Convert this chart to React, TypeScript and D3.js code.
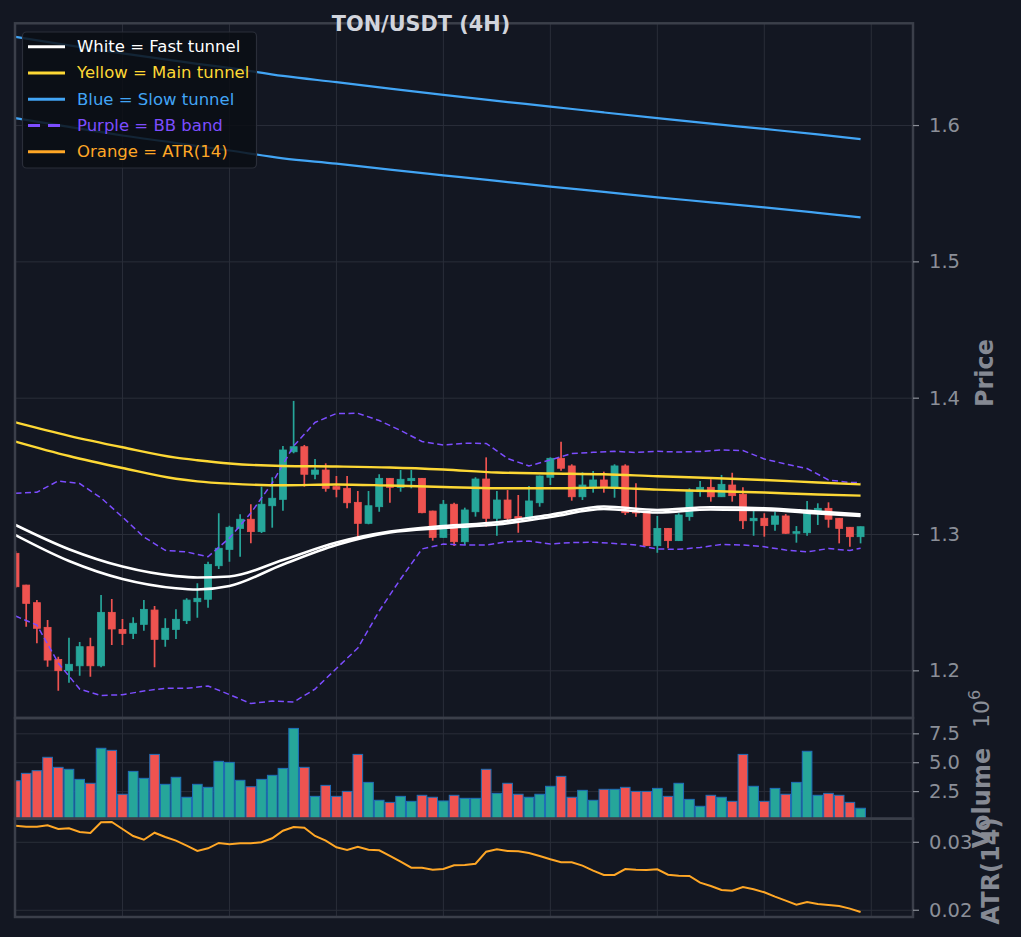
import * as d3 from "d3";

// TON/USDT 4H candles
const opens = [
  1.2862, 1.2629, 1.25, 1.2319, 1.2084, 1.2001, 1.2037, 1.2177, 1.2037, 1.2429,
  1.2304, 1.2275, 1.2341, 1.2446, 1.2231, 1.2304, 1.2368, 1.2507, 1.2525, 1.2771,
  1.2891, 1.3045, 1.3112, 1.3021, 1.3211, 1.3258, 1.3607, 1.3644, 1.3442, 1.3473,
  1.3351, 1.3339, 1.3236, 1.3082, 1.3204, 1.3412, 1.3346, 1.3395, 1.3412, 1.3172,
  1.2979, 1.3222, 1.2947, 1.3167, 1.3407, 1.3119, 1.3253, 1.3131, 1.3119, 1.3233,
  1.342, 1.3559, 1.3503, 1.3277, 1.3351, 1.34, 1.3339, 1.3503, 1.3167, 1.3167,
  1.2918, 1.3045, 1.2955, 1.3131, 1.3314, 1.3346, 1.3277, 1.3363, 1.3295, 1.3101,
  1.3119, 1.3075, 1.3136, 1.3009, 1.3013, 1.3156, 1.3192, 1.3119, 1.3053, 1.2984,
];
const highs = [
  1.2879, 1.2632, 1.2519, 1.2373, 1.2103, 1.2243, 1.2211, 1.2243, 1.2556, 1.2527,
  1.238, 1.2393, 1.2519, 1.2475, 1.2385, 1.2451, 1.2532, 1.2642, 1.28, 1.3156,
  1.3065, 1.3148, 1.3222, 1.3351, 1.342, 1.3649, 1.398, 1.3657, 1.3554, 1.3522,
  1.3429, 1.3429, 1.3319, 1.3319, 1.3442, 1.3415, 1.3473, 1.3473, 1.3415, 1.3175,
  1.3253, 1.3233, 1.3197, 1.342, 1.3566, 1.3319, 1.3326, 1.329, 1.3356, 1.3432,
  1.3566, 1.3681, 1.3515, 1.3456, 1.3466, 1.3461, 1.3515, 1.3515, 1.3376, 1.3172,
  1.3136, 1.3048, 1.3156, 1.3339, 1.3393, 1.3405, 1.3437, 1.3453, 1.3346, 1.3172,
  1.3156, 1.3167, 1.315, 1.3062, 1.3246, 1.3229, 1.3236, 1.3121, 1.3055, 1.3059,
];
const lows = [
  1.2607, 1.2324, 1.2202, 1.203, 1.1854, 1.1913, 1.1964, 1.1957, 1.2026, 1.2189,
  1.2189, 1.2233, 1.2294, 1.2026, 1.2177, 1.2233, 1.2343, 1.239, 1.2463, 1.2747,
  1.28, 1.2837, 1.2935, 1.3011, 1.305, 1.3175, 1.3596, 1.3351, 1.3405, 1.3314,
  1.3273, 1.3192, 1.2977, 1.3075, 1.3167, 1.3233, 1.3314, 1.3339, 1.3156, 1.2955,
  1.2975, 1.2916, 1.2923, 1.3131, 1.3057, 1.2991, 1.3082, 1.3013, 1.3115, 1.3204,
  1.3363, 1.3468, 1.3248, 1.3253, 1.3307, 1.3307, 1.327, 1.3143, 1.3131, 1.2916,
  1.2866, 1.2899, 1.2952, 1.3101, 1.3277, 1.3241, 1.3275, 1.3241, 1.304, 1.2991,
  1.2984, 1.3028, 1.3005, 1.294, 1.2991, 1.307, 1.305, 1.2935, 1.291, 1.2935,
];
const closes = [
  1.2617, 1.2495, 1.2312, 1.2079, 1.2001, 1.2048, 1.2177, 1.2037, 1.2429, 1.2307,
  1.2275, 1.2349, 1.2451, 1.2231, 1.2312, 1.2378, 1.2519, 1.2532, 1.2781, 1.2899,
  1.3053, 1.3112, 1.3021, 1.3222, 1.3266, 1.362, 1.3644, 1.3442, 1.3473, 1.3339,
  1.3332, 1.3233, 1.3082, 1.3211, 1.3412, 1.3346, 1.3405, 1.3412, 1.316, 1.2979,
  1.3222, 1.2947, 1.318, 1.3407, 1.3119, 1.3253, 1.3119, 1.3119, 1.3246, 1.3429,
  1.3559, 1.3486, 1.3277, 1.3363, 1.34, 1.3346, 1.3503, 1.316, 1.316, 1.2918,
  1.3045, 1.2955, 1.3143, 1.3326, 1.3346, 1.3277, 1.3368, 1.3285, 1.3101, 1.3119,
  1.3065, 1.3136, 1.3009, 1.3021, 1.3156, 1.3192, 1.3112, 1.3045, 1.2984, 1.3057,
];

// volume in millions
const volumes = [
  3.44, 4.08, 4.31, 5.47, 4.6, 4.43, 3.56, 3.22, 6.25, 6.07,
  2.27, 4.25, 3.65, 5.72, 3.13, 3.74, 2.01, 3.13, 2.87, 5.12,
  5.03, 3.48, 2.92, 3.56, 3.91, 4.51, 7.97, 4.6, 2.09, 3.04,
  2.09, 2.52, 5.72, 3.3, 1.75, 1.57, 2.09, 1.66, 2.18, 2.01,
  1.69, 2.18, 1.92, 1.92, 4.43, 2.35, 3.22, 2.27, 2.01, 2.27,
  2.96, 3.82, 2.01, 2.61, 1.75, 2.7, 2.7, 2.87, 2.52, 2.52,
  2.78, 2.09, 3.22, 1.83, 1.23, 2.18, 2.01, 1.66, 5.72, 2.96,
  1.66, 2.78, 2.27, 3.3, 5.99, 2.18, 2.35, 2.18, 1.57, 1.06,
];

const atr = [
  0.03244, 0.0323, 0.0323, 0.0325, 0.03196, 0.03206, 0.03151, 0.03137, 0.03294, 0.03299,
  0.03196, 0.03093, 0.03038, 0.03141, 0.03078, 0.03024, 0.0295, 0.02872, 0.02912, 0.0299,
  0.0297, 0.02985, 0.02985, 0.03, 0.03059, 0.0317, 0.03225, 0.03215, 0.03093, 0.03024,
  0.02926, 0.02887, 0.02935, 0.02891, 0.02882, 0.02799, 0.02715, 0.02627, 0.02627, 0.02597,
  0.02607, 0.02662, 0.02666, 0.02685, 0.02862, 0.02897, 0.02872, 0.02868, 0.02843, 0.02799,
  0.0275, 0.02706, 0.02706, 0.02657, 0.02583, 0.02519, 0.02519, 0.02607, 0.02597, 0.02593,
  0.02603, 0.02524, 0.02509, 0.02504, 0.02406, 0.02357, 0.02299, 0.02288, 0.02343, 0.02309,
  0.02265, 0.022, 0.02141, 0.02082, 0.02122, 0.02093, 0.02078, 0.02063, 0.02024, 0.01975,
];

// tunnels, read roughly every 5 candles
const tunnelIdx = [0, 5, 10, 15, 17, 20, 25, 30, 35, 40, 45, 50, 55, 60, 65, 70, 75, 79];
const fastUpper = [1.307, 1.2892, 1.2765, 1.2695, 1.2685, 1.2692, 1.2813, 1.2941, 1.3021, 1.3062, 1.309, 1.3145, 1.3205, 1.318, 1.32, 1.3193, 1.3169, 1.3148];
const fastLower = [1.2996, 1.2806, 1.2674, 1.2606, 1.2597, 1.2622, 1.278, 1.2923, 1.3015, 1.3048, 1.3073, 1.3128, 1.3187, 1.3161, 1.3183, 1.318, 1.3154, 1.3136];
const mainUpper = [1.3822, 1.3724, 1.364, 1.3564, 1.3545, 1.3521, 1.3503, 1.3499, 1.3492, 1.3477, 1.3455, 1.3448, 1.3442, 1.3427, 1.3415, 1.34, 1.3382, 1.3368];
const mainLower = [1.3682, 1.3576, 1.3488, 1.3409, 1.339, 1.3373, 1.3361, 1.3367, 1.3359, 1.3349, 1.3339, 1.3339, 1.3344, 1.3329, 1.3319, 1.3308, 1.3293, 1.3285];
const slowUpper = [1.665, 1.6588, 1.6529, 1.6474, 1.6453, 1.6423, 1.6364, 1.6318, 1.6271, 1.6225, 1.6181, 1.6139, 1.6096, 1.6054, 1.6014, 1.5975, 1.5935, 1.59];
const slowLower = [1.6054, 1.599, 1.5927, 1.5872, 1.5849, 1.5817, 1.5759, 1.572, 1.5676, 1.5635, 1.5594, 1.5552, 1.5513, 1.5473, 1.5437, 1.54, 1.536, 1.5327];

// Bollinger band, read every 2 candles
const bbIdx = [0, 2, 4, 6, 8, 10, 12, 14, 16, 18, 20, 22, 24, 26, 28, 30, 32, 34, 36, 38, 40, 42, 44, 46, 48, 50, 52, 54, 56, 58, 60, 62, 64, 66, 68, 70, 72, 74, 76, 78, 79];
const bbUpper = [
  1.3302, 1.331, 1.3393, 1.3374, 1.3268, 1.3128, 1.2982, 1.2884, 1.2872, 1.2837,
  1.2974, 1.3158, 1.3378, 1.3649, 1.3822, 1.3888, 1.3889, 1.3836, 1.3763, 1.3682,
  1.3657, 1.367, 1.3668, 1.3558, 1.3503, 1.3547, 1.3594, 1.3603, 1.361, 1.3602,
  1.361, 1.3605, 1.3609, 1.362, 1.3616, 1.3554, 1.3517, 1.3484, 1.34, 1.3382, 1.338,
];
const bbLower = [
  1.2402, 1.2336, 1.2057, 1.1866, 1.1819, 1.1825, 1.1852, 1.1872, 1.1872, 1.1889,
  1.1826, 1.176, 1.1778, 1.1771, 1.1866, 1.2017, 1.2167, 1.2439, 1.2674, 1.2894,
  1.293, 1.2923, 1.2923, 1.2947, 1.2952, 1.293, 1.2941, 1.2943, 1.2934, 1.2923,
  1.2894, 1.2891, 1.2905, 1.2927, 1.2923, 1.291, 1.2886, 1.2872, 1.2897, 1.2883, 1.2899,
];

const priceTicks = [1.2, 1.3, 1.4, 1.5, 1.6];
const volumeTicks = [2.5, 5.0, 7.5];
const atrTicks = [0.02, 0.03];
const xGridTicks = [10, 20, 30, 40, 50, 60, 70, 80];

const legendItems = [
  { label: "White = Fast tunnel", color: "#ffffff", dash: "" },
  { label: "Yellow = Main tunnel", color: "#fdd835", dash: "" },
  { label: "Blue = Slow tunnel", color: "#42a5f5", dash: "" },
  { label: "Purple = BB band", color: "#7c4dff", dash: "12 8" },
  { label: "Orange = ATR(14)", color: "#ffa726", dash: "" },
];

const BG = "#131722";
const GRID = "#2a2e39";
const SPINE = "#3b3f4a";
const TICK = "#8b8f98";
const UP = "#26a69a";
const DOWN = "#ef5350";
const FONT = "DejaVu Sans";

export default function App() {
  const left = 15.5;
  const right = 913;
  const price = { top: 23.3, bottom: 718 };
  const vol = { top: 718, bottom: 818.7 };
  const atrP = { top: 818.7, bottom: 917 };

  const x = d3.scaleLinear().domain([0, 83.9]).range([left, right]);
  const yPrice = d3.scaleLinear().domain([1.1654, 1.675]).range([price.bottom, price.top]);
  const yVol = d3.scaleLinear().domain([0, 8.87]).range([820.5, vol.top]);
  const yAtr = d3.scaleLinear().domain([0.01901, 0.03328]).range([917, 820]);

  const step = x(1) - x(0);
  const bodyW = step * 0.65;
  const barW = step * 0.9;

  const tunnel = (vals: number[]) =>
    d3
      .line<number>()
      .x((_, k) => x(tunnelIdx[k]))
      .y((v) => yPrice(v))
      .curve(d3.curveMonotoneX)(vals) || "";

  const band = (vals: number[]) =>
    d3
      .line<number>()
      .x((_, k) => x(bbIdx[k]))
      .y((v) => yPrice(v))(vals) || "";

  const atrPath =
    d3
      .line<number>()
      .x((_, i) => x(i))
      .y((v) => yAtr(v))(atr) || "";

  const fmt1 = d3.format(".1f");
  const fmt2 = d3.format(".2f");

  const rightTicks = (ticks: number[], scale: (v: number) => number, fmt: (v: number) => string) =>
    ticks.map((t) => (
      <g key={t}>
        <line x1={right} x2={right + 6} y1={scale(t)} y2={scale(t)} stroke={TICK} strokeWidth={1.2} />
        <text
          x={929}
          y={scale(t)}
          dominantBaseline="central"
          fill={TICK}
          fontSize={19.5}
          fontFamily={FONT}
        >
          {fmt(t)}
        </text>
      </g>
    ));

  const vGrid = (top: number, bottom: number) =>
    xGridTicks.map((t) => (
      <line key={t} x1={x(t)} x2={x(t)} y1={top} y2={bottom} stroke={GRID} strokeWidth={1} />
    ));

  return (
    <svg
      width={1021}
      height={937}
      style={{ position: "absolute", left: 0, top: 0, display: "block" }}
    >
      <rect x={0} y={0} width={1021} height={937} fill={BG} />
      <defs>
        <clipPath id="clip-price">
          <rect x={left} y={price.top} width={right - left} height={price.bottom - price.top} />
        </clipPath>
        <clipPath id="clip-vol">
          <rect x={left} y={vol.top} width={right - left} height={vol.bottom - vol.top} />
        </clipPath>
        <clipPath id="clip-atr">
          <rect x={left} y={atrP.top} width={right - left} height={atrP.bottom - atrP.top} />
        </clipPath>
      </defs>

      {/* grids */}
      {vGrid(price.top, price.bottom)}
      {vGrid(vol.top, vol.bottom)}
      {vGrid(atrP.top, atrP.bottom)}
      {priceTicks.map((t) => (
        <line key={t} x1={left} x2={right} y1={yPrice(t)} y2={yPrice(t)} stroke={GRID} strokeWidth={1} />
      ))}
      {volumeTicks.map((t) => (
        <line key={t} x1={left} x2={right} y1={yVol(t)} y2={yVol(t)} stroke={GRID} strokeWidth={1} />
      ))}
      {atrTicks.map((t) => (
        <line key={t} x1={left} x2={right} y1={yAtr(t)} y2={yAtr(t)} stroke={GRID} strokeWidth={1} />
      ))}

      {/* candles */}
      <g clipPath="url(#clip-price)">
        {opens.map((o, i) => {
          const c = closes[i];
          const col = c >= o ? UP : DOWN;
          const yTop = yPrice(Math.max(o, c));
          const yBot = yPrice(Math.min(o, c));
          return (
            <g key={i}>
              <line x1={x(i)} x2={x(i)} y1={yPrice(highs[i])} y2={yPrice(lows[i])} stroke={col} strokeWidth={1.7} />
              <rect
                x={x(i) - bodyW / 2}
                y={yTop}
                width={bodyW}
                height={Math.max(yBot - yTop, 1.2)}
                fill={col}
                stroke={col}
                strokeWidth={0.8}
              />
            </g>
          );
        })}

        <path d={band(bbUpper)} fill="none" stroke="#7c4dff" strokeWidth={1.5} strokeDasharray="6 3.5" />
        <path d={band(bbLower)} fill="none" stroke="#7c4dff" strokeWidth={1.5} strokeDasharray="6 3.5" />
        <path d={tunnel(slowUpper)} fill="none" stroke="#42a5f5" strokeWidth={2.2} />
        <path d={tunnel(slowLower)} fill="none" stroke="#42a5f5" strokeWidth={2.2} />
        <path d={tunnel(mainUpper)} fill="none" stroke="#fdd835" strokeWidth={2.4} />
        <path d={tunnel(mainLower)} fill="none" stroke="#fdd835" strokeWidth={2.4} />
        <path d={tunnel(fastUpper)} fill="none" stroke="#ffffff" strokeWidth={2.6} />
        <path d={tunnel(fastLower)} fill="none" stroke="#ffffff" strokeWidth={2.6} />
      </g>

      {/* volume */}
      <g clipPath="url(#clip-vol)">
        {volumes.map((v, i) => (
          <rect
            key={i}
            x={x(i) - barW / 2}
            y={yVol(v)}
            width={barW}
            height={yVol(0) - yVol(v)}
            fill={closes[i] >= opens[i] ? UP : DOWN}
            stroke="#1f6fb8"
            strokeWidth={1}
          />
        ))}
      </g>

      {/* ATR */}
      <g clipPath="url(#clip-atr)">
        <path d={atrPath} fill="none" stroke="#ffa726" strokeWidth={2} />
      </g>

      {/* spines */}
      <rect x={left - 0.5} y={price.top} width={right - left + 0.5} height={price.bottom - price.top} fill="none" stroke={SPINE} strokeWidth={2.5} />
      <rect x={left - 0.5} y={vol.top} width={right - left + 0.5} height={vol.bottom - vol.top} fill="none" stroke={SPINE} strokeWidth={2.5} />
      <rect x={left - 0.5} y={atrP.top} width={right - left + 0.5} height={atrP.bottom - atrP.top} fill="none" stroke={SPINE} strokeWidth={2.5} />

      {/* ticks */}
      {rightTicks(priceTicks, yPrice, fmt1)}
      {rightTicks(volumeTicks, yVol, fmt1)}
      {rightTicks(atrTicks, yAtr, fmt2)}

      {/* axis labels */}
      <text transform="translate(993,373) rotate(-90)" textAnchor="middle" fill="#858993" fontSize={24} fontWeight="bold" fontFamily={FONT}>
        Price
      </text>
      <text transform="translate(990,798) rotate(-90)" textAnchor="middle" fill="#858993" fontSize={24} fontWeight="bold" fontFamily={FONT}>
        Volume
      </text>
      <text transform="translate(999,871) rotate(-90)" textAnchor="middle" fill="#858993" fontSize={24} fontWeight="bold" fontFamily={FONT}>
        ATR(14)
      </text>
      <text transform="translate(989,728) rotate(-90)" fill={TICK} fontSize={22} fontFamily={FONT}>
        10
        <tspan fontSize={16} dy={-9}>
          6
        </tspan>
      </text>

      {/* title */}
      <text x={421} y={30.5} textAnchor="middle" fill="#d1d4dc" fontSize={20.8} fontWeight="bold" fontFamily={FONT}>
        TON/USDT (4H)
      </text>

      {/* legend */}
      <g>
        <rect x={22.5} y={32} width={234} height={136} rx={4} fill="#0b0e14" fillOpacity={0.85} stroke={GRID} strokeWidth={1.2} />
        {legendItems.map((d, k) => {
          const yy = 46.7 + k * 26.25;
          return (
            <g key={d.label}>
              <line x1={28} x2={65} y1={yy} y2={yy} stroke={d.color} strokeWidth={3} strokeDasharray={d.dash || undefined} />
              <text x={77} y={yy} dominantBaseline="central" fill={d.color} fontSize={16.5} fontFamily={FONT}>
                {d.label}
              </text>
            </g>
          );
        })}
      </g>
    </svg>
  );
}
